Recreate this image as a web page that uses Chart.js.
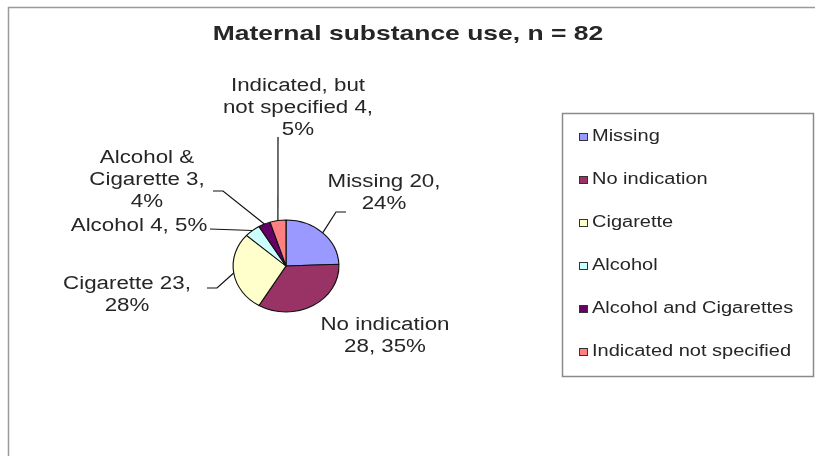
<!DOCTYPE html>
<html>
<head>
<meta charset="utf-8">
<script src="https://cdn.jsdelivr.net/npm/chart.js@4"></script>
<style>
  body { margin: 0; background: #fff; }
  canvas { display: block; }
</style>
</head>
<body>
<canvas id="pie" width="815" height="456"></canvas>
<script>
// data
let labels = ['Missing','No indication','Cigarette','Alcohol','Alcohol and Cigarettes','Indicated not specified']
let counts = [20, 28, 23, 4, 3, 4]
let percents = [24, 35, 28, 5, 4, 5]
let sliceColors = ['#9999FF','#993366','#FFFFCC','#CCFFFF','#660066','#FF8080']
let titleText = 'Maternal substance use, n = 82'

// callout text per slice (line breaks as in the picture)
let calloutLines = [
  ['Missing ' + counts[0] + ',', percents[0] + '%'],
  ['No indication', counts[1] + ', ' + percents[1] + '%'],
  ['Cigarette ' + counts[2] + ',', percents[2] + '%'],
  ['Alcohol ' + counts[3] + ', ' + percents[3] + '%'],
  ['Alcohol &', 'Cigarette ' + counts[4] + ',', percents[4] + '%'],
  ['Indicated, but', 'not specified ' + counts[5] + ',', percents[5] + '%']
]

// layout: where each callout sits and how its leader line bends
let calloutPos = [
  {x: 384, y: 187, elbow: [336, 212], end: [346, 212]},
  {x: 385, y: 330, elbow: null, end: null},
  {x: 127, y: 289, elbow: [217, 288], end: [207, 288]},
  {x: 139, y: 231, elbow: null, end: [210, 229]},
  {x: 147, y: 163, elbow: [223, 191], end: [213, 191]},
  {x: 298, y: 91, elbow: null, end: [278, 137]}
]

const STRETCH = 1.15   // the picture is stretched sideways
const FONT = '"Liberation Sans", Arial, sans-serif'
const TEXT = '#262626'

function wideText(ctx, str, x, y, sx, align) {
  ctx.save()
  ctx.translate(x, y)
  ctx.scale(sx, 1)
  ctx.textAlign = align
  ctx.fillText(str, 0, 0)
  ctx.restore()
}

let decor = {
  id: 'decor',
  beforeDraw(chart) {
    let ctx = chart.ctx
    ctx.save()
    ctx.fillStyle = '#fff'
    ctx.fillRect(0, 0, chart.width, chart.height)
    // outer frame
    ctx.strokeStyle = '#9a9a9a'
    ctx.lineWidth = 1.5
    ctx.beginPath()
    ctx.moveTo(8.5, chart.height)
    ctx.lineTo(8.5, 7.5)
    ctx.lineTo(chart.width, 7.5)
    ctx.stroke()
    ctx.restore()
  },
  beforeDatasetsDraw(chart) {
    let ctx = chart.ctx
    let arc = chart.getDatasetMeta(0).data[0]
    ctx.save()
    ctx.translate(arc.x, arc.y)
    ctx.scale(STRETCH, 1)
    ctx.translate(-arc.x, -arc.y)
  },
  afterDatasetsDraw(chart) {
    let ctx = chart.ctx
    ctx.restore()

    // title
    ctx.save()
    ctx.fillStyle = TEXT
    ctx.textBaseline = 'alphabetic'
    ctx.font = 'bold 21px ' + FONT
    wideText(ctx, titleText, 408, 40, 1.26, 'center')
    ctx.restore()

    // callouts with leader lines
    let meta = chart.getDatasetMeta(0)
    ctx.save()
    ctx.font = '18px ' + FONT
    ctx.fillStyle = TEXT
    ctx.strokeStyle = '#111'
    ctx.lineWidth = 1.2
    meta.data.forEach((a, i) => {
      let p = calloutPos[i]
      calloutLines[i].forEach((line, k) => {
        wideText(ctx, line, p.x, p.y + k * 22, 1.24, 'center')
      })
      if (!p.end) return
      let mid = (a.startAngle + a.endAngle) / 2
      let ex = a.x + Math.cos(mid) * a.outerRadius * STRETCH
      let ey = a.y + Math.sin(mid) * a.outerRadius
      ctx.beginPath()
      ctx.moveTo(ex, ey)
      if (p.elbow) ctx.lineTo(p.elbow[0], p.elbow[1])
      ctx.lineTo(p.end[0], p.end[1])
      ctx.stroke()
    })
    ctx.restore()

    // legend box
    ctx.save()
    ctx.strokeStyle = '#8a8a8a'
    ctx.lineWidth = 1.5
    ctx.strokeRect(562.5, 113.5, 251, 263)
    ctx.font = '16px ' + FONT
    ctx.textBaseline = 'middle'
    labels.forEach((lab, i) => {
      let y = 137 + i * 43
      ctx.fillStyle = sliceColors[i]
      ctx.fillRect(579, y - 4, 9, 8)
      ctx.strokeStyle = '#333'
      ctx.lineWidth = 1
      ctx.strokeRect(579.5, y - 3.5, 8, 7)
      ctx.fillStyle = TEXT
      wideText(ctx, lab, 592, y, 1.25, 'left')
    })
    ctx.restore()
  }
}

let pieChart = new Chart(document.querySelector('#pie').getContext('2d'), {
  type: 'pie',
  data: {
    labels: labels,
    datasets: [{
      data: counts,
      backgroundColor: sliceColors,
      borderColor: '#111',
      borderWidth: 1
    }]
  },
  options: {
    responsive: false,
    animation: false,
    radius: 46,
    layout: { padding: { left: 186, right: 429, top: 186, bottom: 110 } },
    plugins: {
      legend: { display: false },
      title: { display: false },
      tooltip: { enabled: false }
    }
  },
  plugins: [decor]
})
</script>
</body>
</html>
